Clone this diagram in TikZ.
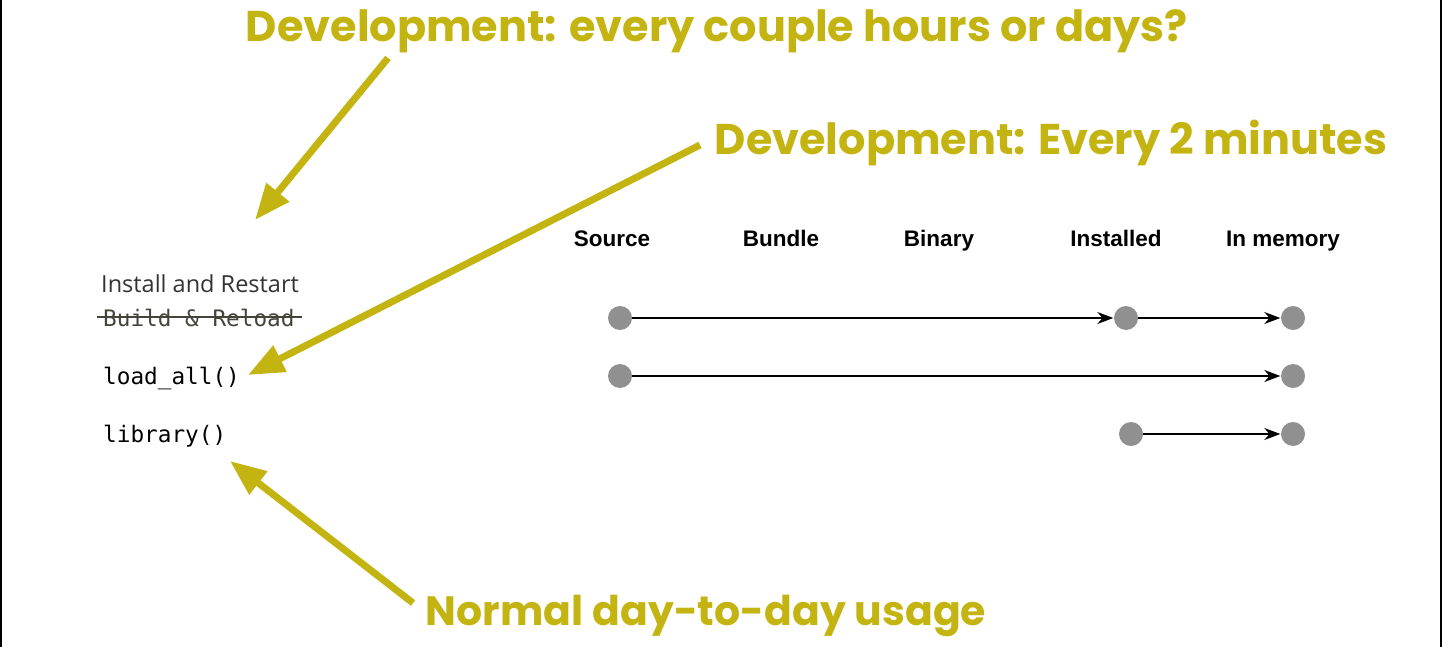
\documentclass[tikz,border=0pt]{standalone}
\usepackage{fontspec}
\setmainfont{Open Sans}
\newfontfamily\hdfont{Poppins}
\newfontfamily\colfont{Liberation Sans}
\setmonofont{DejaVu Sans Mono}
\usetikzlibrary{arrows.meta}
\definecolor{olive}{HTML}{C4B412}
\definecolor{dotgray}{HTML}{909090}
\definecolor{txtgray}{HTML}{333333}
\definecolor{strikegray}{HTML}{45443C}
\begin{document}
\begin{tikzpicture}[x=1pt,y=-1pt,
  hd/.style={text=olive,font=\hdfont\bfseries\fontsize{43}{50}\selectfont,inner sep=0pt},
  col/.style={anchor=base,font=\colfont\bfseries\fontsize{22.5}{26}\selectfont,inner sep=0pt},
  cmd/.style={anchor=base west,font=\ttfamily\fontsize{22.7}{26}\selectfont,inner sep=0pt},
  dot/.style={circle,fill=dotgray,minimum size=24pt,inner sep=0pt},
  flow/.style={-{Stealth[length=16pt,width=12pt]},line width=1.4pt,shorten >=0.5pt},
  pointer/.style={olive,line width=7pt,-{Triangle[length=36pt,width=28pt]}}]
  \useasboundingbox (0,0) rectangle (1443,647);
  \draw[line width=2.5pt] (1,0) -- (1,647) (1441,0) -- (1441,647);
  % headlines
  \node[hd] (h0) at (717,31){Development: every couple hours or days?};
  \node[hd] (h1) at (1051,143){Development: Every 2 minutes};
  \node[hd,font=\hdfont\bfseries\fontsize{41}{48}\selectfont] (h2) at (706,616){Normal day-to-day usage};
  % column titles
  \node[col] (c0) at (612,247){Source};
  \node[col] (c1) at (781,247){Bundle};
  \node[col] (c2) at (939,247){Binary};
  \node[col] (c3) at (1116,247){Installed};
  \node[col] (c4) at (1283,247){In memory};
  % row labels
  \node[anchor=base west,inner sep=0pt,text=txtgray,font=\fontsize{23.5}{28}\selectfont] (r0) at (101,292){Install and Restart};
  \node[cmd,text=strikegray] (r1) at (103,326){Build \& Reload};
  \draw[strikegray,line width=1.8pt] ([xshift=-6pt,yshift=9pt]r1.base west) -- ([xshift=7pt,yshift=9pt]r1.base east);
  \node[cmd] (r2) at (103,384){load\_all()};
  \node[cmd] (r3) at (103,442){library()};
  % dots
  \node[dot] (a0) at (620,318){};
  \node[dot] (a1) at (1126,318){};
  \node[dot] (a2) at (1293,318){};
  \node[dot] (b0) at (620,376){};
  \node[dot] (b1) at (1293,376){};
  \node[dot] (d0) at (1131,434){};
  \node[dot] (d1) at (1293,434){};
  \draw[flow] (a0) -- (a1);
  \draw[flow] (a1) -- (a2);
  \draw[flow] (b0) -- (b1);
  \draw[flow] (d0) -- (d1);
  % pointers
  \coordinate (p0) at (388,58);
  \coordinate (q0) at (255,220);
  \coordinate (p1) at (700,145);
  \coordinate (q1) at (248,375);
  \coordinate (p2) at (413,603);
  \coordinate (q2) at (230,461);
  \draw[pointer] (p0) -- (q0);
  \draw[pointer] (p1) -- (q1);
  \draw[pointer] (p2) -- (q2);
\end{tikzpicture}
\end{document}
